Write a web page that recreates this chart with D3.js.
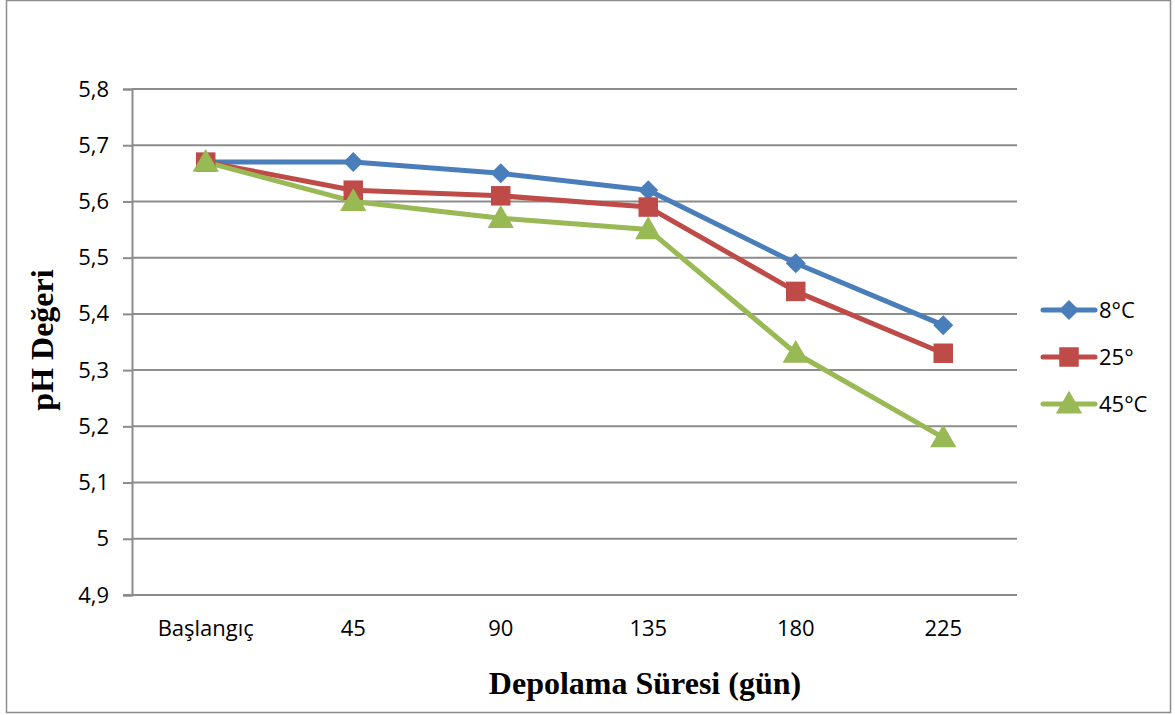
<!DOCTYPE html>
<html>
<head>
<meta charset="utf-8">
<script src="https://cdn.jsdelivr.net/npm/d3@7"></script>
<style>
  body { margin: 0; background: #fff; }
  svg text { font-family: "Open Sans", "Noto Sans", sans-serif; }
</style>
</head>
<body>
<svg id="chart" width="1175" height="715"></svg>
<script>
const categories = ["Başlangıç", "45", "90", "135", "180", "225"];
const yTicks = [4.9, 5.0, 5.1, 5.2, 5.3, 5.4, 5.5, 5.6, 5.7, 5.8];
const seriesNames = ["8°C", "25°", "45°C"];
const values8 = [5.67, 5.67, 5.65, 5.62, 5.49, 5.38];
const values25 = [5.67, 5.62, 5.61, 5.59, 5.44, 5.33];
const values45 = [5.67, 5.60, 5.57, 5.55, 5.33, 5.18];
const colors = ["#4a7ebb", "#be4b48", "#98b954"];
const markers = ["diamond", "square", "triangle"];

const series = [values8, values25, values45].map((v, i) => ({
    name: seriesNames[i], values: v, color: colors[i], marker: markers[i]
}));

// marker shapes like the spreadsheet ones
function markerPath(type) {
    if (type === "diamond") return d3.symbol().type(d3.symbolSquare).size(200)();
    if (type === "square") return d3.symbol().type(d3.symbolSquare).size(380)();
    return d3.symbol().type(d3.symbolTriangle).size(300)();
}
function markerTransform(type) {
    if (type === "diamond") return " rotate(45)";
    if (type === "triangle") return " translate(0,2)";
    return "";
}

const svg = d3.select("#chart"),
    margin = {top: 89, right: 158, bottom: 120, left: 132},
    width = +svg.attr("width") - margin.left - margin.right,
    height = +svg.attr("height") - margin.top - margin.bottom;

// outer chart border
svg.append("rect")
    .attr("x", 6.5).attr("y", 0.5)
    .attr("width", 1164).attr("height", 712)
    .attr("fill", "none").attr("stroke", "#8c8c8c").attr("stroke-width", 1.5);

const x = d3.scaleBand().domain(categories).range([0, width]);
const y = d3.scaleLinear().domain([4.9, 5.8]).range([height, 0]);

const g = svg.append("g").attr("transform", `translate(${margin.left},${margin.top})`);

// gridlines
g.selectAll(".grid")
    .data(yTicks.slice(1))
    .enter().append("line")
    .attr("x1", 0).attr("x2", width)
    .attr("y1", d => y(d)).attr("y2", d => y(d))
    .attr("stroke", "#8c8c8c").attr("stroke-width", 2);

const yAxis = g.append("g")
    .call(d3.axisLeft(y).tickValues(yTicks).tickSize(9).tickPadding(14)
        .tickFormat(d => d === 5 ? "5" : d3.format(".1f")(d).replace(".", ",")));
yAxis.select(".domain").attr("stroke", "#8c8c8c").attr("stroke-width", 2);
yAxis.selectAll(".tick line").attr("stroke", "#8c8c8c").attr("stroke-width", 2);
yAxis.selectAll("text").attr("font-size", 22).attr("fill", "#000")
    .style("font-family", "'Open Sans', sans-serif");

const xAxis = g.append("g")
    .attr("transform", `translate(0,${height})`)
    .call(d3.axisBottom(x).tickSize(0).tickPadding(25));
xAxis.select(".domain").attr("stroke", "#8c8c8c").attr("stroke-width", 2)
    .attr("d", `M-9,0H${width}`);
xAxis.selectAll("text").attr("font-size", 22).attr("fill", "#000")
    .style("font-family", "'Open Sans', sans-serif");

const cx = d => x(d) + x.bandwidth() / 2;

const line = d3.line()
    .x((d, i) => cx(categories[i]))
    .y(d => y(d));

series.forEach(s => {
    g.append("path")
        .datum(s.values)
        .attr("fill", "none")
        .attr("stroke", s.color)
        .attr("stroke-width", 5)
        .attr("stroke-linejoin", "round")
        .attr("stroke-linecap", "round")
        .attr("d", line);
});

series.forEach(s => {
    g.selectAll(null)
        .data(s.values)
        .enter().append("path")
        .attr("transform", (d, i) => `translate(${cx(categories[i])},${y(d)})` + markerTransform(s.marker))
        .attr("d", markerPath(s.marker))
        .attr("fill", s.color);
});

// axis titles
svg.append("text")
    .attr("x", 645)
    .attr("y", 694)
    .attr("text-anchor", "middle")
    .style("font-family", "'Liberation Serif', 'Times New Roman', serif")
    .attr("font-weight", "bold")
    .attr("font-size", 32)
    .text("Depolama Süresi (gün)");

svg.append("text")
    .attr("transform", "translate(53,340) rotate(-90)")
    .attr("text-anchor", "middle")
    .style("font-family", "'Liberation Serif', 'Times New Roman', serif")
    .attr("font-weight", "bold")
    .attr("font-size", 32)
    .text("pH Değeri");

// legend
const legend = svg.append("g").attr("transform", "translate(1041,310)");
series.forEach((s, i) => {
    const row = legend.append("g").attr("transform", `translate(0,${i * 47})`);
    row.append("line")
        .attr("x1", 2).attr("x2", 54)
        .attr("stroke", s.color).attr("stroke-width", 5)
        .attr("stroke-linecap", "round");
    row.append("path")
        .attr("transform", "translate(28,0)" + markerTransform(s.marker))
        .attr("d", markerPath(s.marker))
        .attr("fill", s.color);
    row.append("text")
        .attr("x", 58).attr("y", 8)
        .attr("font-size", 22)
        .text(s.name);
});
</script>
</body>
</html>
